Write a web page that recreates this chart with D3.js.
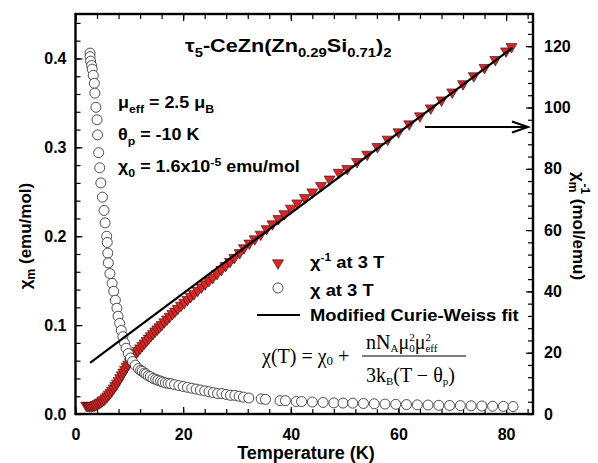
<!DOCTYPE html>
<html><head><meta charset="utf-8">
<script src="https://cdn.jsdelivr.net/npm/d3@7"></script>
<style>
html,body{margin:0;padding:0;background:#fff;}
</style></head>
<body>
<svg id="chart" width="598" height="463" font-family="Arial, 'Liberation Sans', sans-serif"></svg>
<script>
// ---------- data ----------
const chiT = [2.7,2.7,2.8,3.0,3.1,3.3,3.5,3.6,3.8,4.0,4.1,4.3,4.5,4.7,5.0,5.3,5.5,5.8,5.9,6.0,6.1,6.4,6.8,7.1,7.4,7.7,7.9,8.2,8.5,8.8,9.1,9.4,9.8,10.2,10.6,11.1,11.7,12.1,12.4,12.8,13.1,13.5,13.9,14.4,14.9,15.3,15.8,16.2,16.7,17.2,17.7,18.4,19.2,20.0,20.8,21.6,22.4,23.2,24.0,24.8,25.6,26.4,27.2,28.0,28.8,29.6,30.4,31.2,32.2,34.5,35.3,38.0,39.0,41.0,42.0,44.0,46.0,48.0,49.7,51.5,53.5,55.5,57.5,59.5,61.5,63.5,65.5,67.5,69.5,71.5,73.5,75.5,77.5,79.5,81.3];
const chiV = [0.406,0.402,0.397,0.392,0.388,0.381,0.372,0.361,0.345,0.331,0.314,0.294,0.277,0.260,0.244,0.229,0.215,0.200,0.193,0.181,0.170,0.158,0.147,0.138,0.128,0.119,0.110,0.102,0.094,0.087,0.080,0.074,0.068,0.063,0.059,0.055,0.051,0.049,0.048,0.046,0.045,0.043,0.042,0.040,0.039,0.038,0.037,0.036,0.035,0.0345,0.034,0.033,0.032,0.031,0.030,0.029,0.028,0.027,0.026,0.025,0.024,0.023,0.023,0.022,0.021,0.021,0.020,0.019,0.018,0.017,0.0165,0.015,0.015,0.014,0.014,0.0135,0.013,0.0125,0.0123,0.0122,0.0118,0.0115,0.0112,0.0109,0.0106,0.0103,0.0101,0.0098,0.0096,0.0094,0.0092,0.0090,0.0088,0.0086,0.0084];

const invT = [2.0,2.3,2.6,2.9,3.2,3.5,3.8,4.1,4.4,4.7,5.0,5.3,5.6,5.9,6.2,6.5,6.8,7.1,7.4,7.7,8.0,8.3,8.6,8.9,9.2,9.5,9.8,10.1,10.4,10.7,11.0,11.3,11.6,12.0,12.4,12.8,13.2,13.6,14.0,14.4,14.8,15.2,15.6,16.0,16.5,17.0,17.5,18.0,18.5,19.0,19.6,20.2,20.8,21.4,22.0,22.7,23.4,24.1,24.8,25.5,26.3,27.1,27.9,28.7,29.5,30.5,31.3,32.3,33.3,34.4,35.5,36.6,37.7,38.8,40.0,41.2,42.6,44.0,45.6,47.2,48.9,50.5,52.3,54.2,56.1,58.0,60.0,62.0,64.0,66.0,68.0,70.0,72.0,74.0,76.0,78.0,80.0,81.0];
const invV = [2.8,2.7,2.6,2.6,2.7,2.8,3.0,3.3,3.6,3.9,4.3,4.7,5.2,5.8,6.4,7.0,7.7,8.4,9.2,10.0,10.9,11.8,12.7,13.6,14.5,15.4,16.2,17.0,17.8,18.6,19.3,20.0,20.7,21.5,22.3,23.1,23.9,24.7,25.5,26.2,27.0,27.7,28.4,29.1,30.0,30.9,31.8,32.7,33.5,34.4,35.4,36.3,37.3,38.3,39.2,40.3,41.4,42.4,43.5,44.5,45.8,47.1,48.4,49.7,51.0,52.6,54.2,55.7,57.1,58.6,60.4,62.0,63.7,65.3,67.1,68.8,70.6,72.4,74.5,76.6,78.8,80.0,82.3,84.7,87.2,89.6,92.0,94.6,97.2,99.8,102.4,105.0,107.7,110.3,113.0,115.6,118.4,119.8];

const fitT = [2.7, 81.2];
const fitV = [16.7, 119.5];

const xTicks = [0,20,40,60,80];
const yLTicks = [0.0,0.1,0.2,0.3,0.4];
const yRTicks = [0,20,40,60,80,100,120];

// ---------- layout ----------
const svg = d3.select("#chart");
const L=75.5, R=533, T=14, B=414;
const x = d3.scaleLinear().domain([0,85]).range([L,R]);
const yL = d3.scaleLinear().domain([0,0.45]).range([B,T]);
const yR = d3.scaleLinear().domain([0,130.5]).range([B,T]);

function styleAxis(g){
  g.select(".domain").remove();
  g.selectAll("line").attr("stroke","#000").attr("stroke-width",1.2);
  g.selectAll("text").attr("font-size","16px").attr("font-weight","bold").attr("fill","#000")
    .attr("font-family","Arial, 'Liberation Sans', sans-serif");
}
const minorX = d3.range(0,85,4);
const minorYL = d3.range(0,0.45,0.02);
const minorYR = d3.range(0,131,4);

// minor ticks
svg.append("g").attr("transform",`translate(0,${B})`).call(d3.axisBottom(x).tickValues(minorX).tickSize(-5).tickFormat("")).call(styleAxis);
svg.append("g").attr("transform",`translate(0,${T})`).call(d3.axisTop(x).tickValues(minorX).tickSize(-5).tickFormat("")).call(styleAxis);
svg.append("g").attr("transform",`translate(${L},0)`).call(d3.axisLeft(yL).tickValues(minorYL).tickSize(-5).tickFormat("")).call(styleAxis);
svg.append("g").attr("transform",`translate(${R},0)`).call(d3.axisRight(yR).tickValues(minorYR).tickSize(-5).tickFormat("")).call(styleAxis);
// major ticks
svg.append("g").attr("transform",`translate(0,${B})`).call(d3.axisBottom(x).tickValues(xTicks).tickSize(-7).tickPadding(15).tickFormat(d3.format("d"))).call(styleAxis);
svg.append("g").attr("transform",`translate(0,${T})`).call(d3.axisTop(x).tickValues(xTicks).tickSize(-7).tickFormat("")).call(styleAxis);
svg.append("g").attr("transform",`translate(${L},0)`).call(d3.axisLeft(yL).tickValues(yLTicks).tickSize(-7).tickPadding(9).tickFormat(d3.format(".1f"))).call(styleAxis);
svg.append("g").attr("transform",`translate(${R},0)`).call(d3.axisRight(yR).tickValues(yRTicks).tickSize(-7).tickPadding(11).tickFormat(d3.format("d"))).call(styleAxis);

// ---------- marks ----------
const triPath = "M-5.5,-3.2L5.5,-3.2L0,6.3Z";
const tri = d3.zip(invT, invV);
svg.append("g").selectAll("path").data(tri).join("path")
  .attr("d",triPath)
  .attr("transform",d=>`translate(${x(d[0])},${yR(d[1])})`)
  .attr("fill","#dc2424").attr("stroke","#2a0a0a").attr("stroke-width",0.6);

const circ = d3.zip(chiT, chiV);
svg.append("g").selectAll("circle").data(circ).join("circle")
  .attr("cx",d=>x(d[0])).attr("cy",d=>yL(d[1])).attr("r",5)
  .attr("fill","#fff").attr("stroke","#222").attr("stroke-width",0.8);

const line = d3.line().x(d=>x(d[0])).y(d=>yR(d[1]));
svg.append("path").datum(d3.zip(fitT,fitV)).attr("d",line)
  .attr("fill","none").attr("stroke","#000").attr("stroke-width",2.2);

// frame
svg.append("rect").attr("x",L).attr("y",T).attr("width",R-L).attr("height",B-T)
  .attr("fill","none").attr("stroke","#000").attr("stroke-width",2.4);

// arrow
const arrowY = 127;
svg.append("line").attr("x1",425).attr("y1",arrowY).attr("x2",527).attr("y2",arrowY).attr("stroke","#000").attr("stroke-width",2);
svg.append("path").attr("d",`M512,${arrowY-5.5}L528,${arrowY}L512,${arrowY+5.5}`).attr("fill","none").attr("stroke","#000").attr("stroke-width",2);

// ---------- texts ----------
function rich(parent, xpos, ypos, parts, opts={}){
  const sx = opts.sx||1;
  const t = parent.append("text").attr("x",0).attr("y",0)
    .attr("transform",`translate(${xpos},${ypos}) scale(${sx},1)`)
    .attr("font-size",opts.size||"16px").attr("font-weight",opts.weight||"bold")
    .attr("fill","#000");
  if(opts.family) t.attr("font-family",opts.family);
  if(opts.anchor) t.attr("text-anchor",opts.anchor);
  parts.forEach(p=>{
    const s = t.append("tspan").text(p.t);
    if(p.dy!==undefined) s.attr("dy",p.dy);
    if(p.dx!==undefined) s.attr("dx",p.dx);
    if(p.size) s.attr("font-size",p.size);
  });
  return t;
}

// title
rich(svg,185,52,[
  {t:"τ"},{t:"5",size:"13px",dy:5},{t:"-CeZn(Zn",dy:-5},{t:"0.29",size:"13px",dy:5},
  {t:"Si",dy:-5},{t:"0.71",size:"13px",dy:5},{t:")",dy:-5},{t:"2",size:"13px",dy:5}
],{size:"19px",sx:1.14});

// parameters
rich(svg,118,108,[{t:"μ"},{t:"eff",size:"11px",dy:5},{t:" = 2.5 μ",dy:-5},{t:"B",size:"11px",dy:5}],{size:"16px",sx:1.12});
rich(svg,118,140,[{t:"θ"},{t:"p",size:"11px",dy:5},{t:" = -10 K",dy:-5}],{size:"16px",sx:1.12});
rich(svg,118,172,[{t:"χ"},{t:"0",size:"11px",dy:5},{t:" = 1.6x10",dy:-5},{t:"-5",size:"11px",dy:-6},{t:" emu/mol",dy:6}],{size:"16px",sx:1.12});

// legend
svg.append("path").attr("d",triPath).attr("transform","translate(278,263)")
  .attr("fill","#dc2424").attr("stroke","#2a0a0a").attr("stroke-width",0.6);
svg.append("circle").attr("cx",278).attr("cy",288).attr("r",5).attr("fill","#fff").attr("stroke","#222").attr("stroke-width",0.8);
svg.append("line").attr("x1",257).attr("x2",300).attr("y1",315).attr("y2",315).attr("stroke","#000").attr("stroke-width",2.2);
rich(svg,310,268,[{t:"χ"},{t:"-1",size:"11px",dy:-7},{t:" at 3 T",dy:7}],{size:"17px",sx:1.08});
rich(svg,310,296,[{t:"χ at 3 T"}],{size:"17px",sx:1.08});
rich(svg,310,321,[{t:"Modified Curie-Weiss fit"}],{size:"17px",sx:1.08});

// formula
const serif = "'Times New Roman','Liberation Serif',serif";
rich(svg,262,363,[{t:"χ(T) = χ"},{t:"0",size:"13px",dy:2},{t:" +",dy:-2}],{size:"20px",weight:"normal",family:serif});
svg.append("line").attr("x1",362).attr("x2",466).attr("y1",356).attr("y2",356).attr("stroke","#000").attr("stroke-width",1);
rich(svg,366,349,[
  {t:"nN"},{t:"A",size:"11px",dy:3},{t:"μ",dy:-3},{t:"0",size:"11px",dy:3},{t:"2",size:"11px",dx:-5.5,dy:-11},
  {t:"μ",dy:8},{t:"eff",size:"11px",dy:3},{t:"2",size:"11px",dx:-12,dy:-11}
],{size:"20px",weight:"normal",family:serif});
rich(svg,366,382,[
  {t:"3k"},{t:"B",size:"11px",dy:3},{t:"(T − θ",dy:-3},{t:"p",size:"11px",dy:3},{t:")",dy:-3}
],{size:"20px",weight:"normal",family:serif});

// axis titles
svg.append("text").attr("x",306).attr("y",459).attr("text-anchor","middle")
  .attr("font-size","18px").attr("font-weight","bold").text("Temperature (K)");
rich(svg,31,236,[{t:"χ"},{t:"m",size:"12px",dy:4},{t:" (emu/mol)",dy:-4}],{size:"17px",anchor:"middle"})
  .attr("transform","translate(31,236) rotate(-90)");
rich(svg,573,226,[{t:"χ"},{t:"m",size:"12px",dy:4},{t:"-1",size:"12px",dx:-9,dy:-12},{t:" (mol/emu)",dy:8}],{size:"17px",anchor:"middle"})
  .attr("transform","translate(573,226) rotate(90)");
</script>
</body></html>
